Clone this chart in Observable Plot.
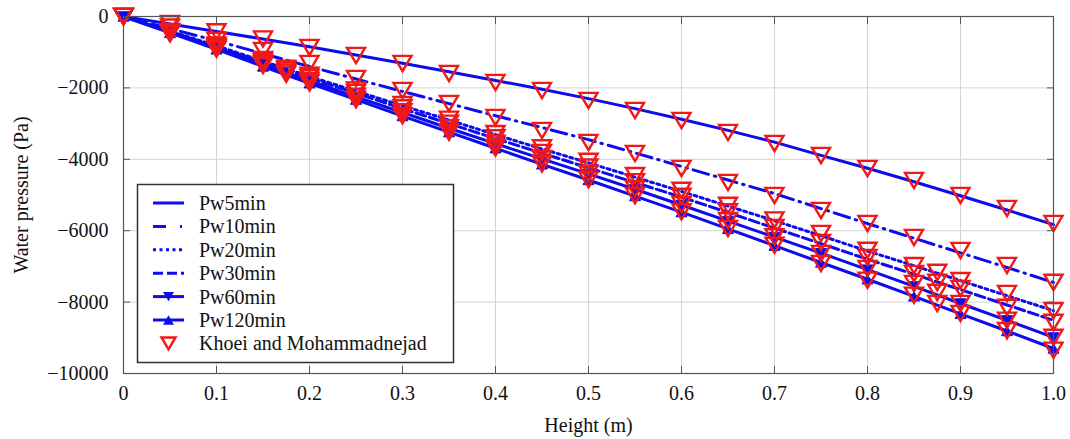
<!DOCTYPE html>
<html><head><meta charset="utf-8">
<script src="https://cdn.jsdelivr.net/npm/d3@7"></script>
<script src="https://cdn.jsdelivr.net/npm/@observablehq/plot@0.6"></script>
<style>
body{margin:0;background:#fff;}
#wrap{position:relative;width:1070px;height:439px;}
#wrap svg{display:block;}
#legend{position:absolute;left:0;top:0;pointer-events:none;}
</style></head><body><div id="wrap"></div>
<script>
// ---- data ----
const heights = [0,0.05,0.1,0.15,0.2,0.25,0.3,0.35,0.4,0.45,0.5,0.55,0.6,0.65,0.7,0.75,0.8,0.85,0.9,0.95,1.0];
const seriesNames = ["Pw5min","Pw10min","Pw20min","Pw30min","Pw60min","Pw120min"];
const pw5   = [0,-210,-420,-630,-850,-1080,-1310,-1550,-1790,-2040,-2300,-2580,-2880,-3190,-3520,-3890,-4250,-4630,-5020,-5420,-5830];
const pw10  = [0,-340,-680,-1040,-1400,-1750,-2100,-2440,-2780,-3110,-3450,-3820,-4200,-4580,-4960,-5380,-5800,-6210,-6620,-7030,-7450];
const pw20  = [0,-410,-820,-1250,-1680,-2090,-2500,-2900,-3310,-3710,-4100,-4500,-4900,-5310,-5720,-6140,-6570,-6980,-7400,-7820,-8240];
const pw30  = [0,-420,-850,-1290,-1730,-2150,-2580,-3000,-3420,-3830,-4240,-4650,-5060,-5490,-5930,-6360,-6800,-7220,-7650,-8080,-8510];
const pw60  = [0,-440,-880,-1340,-1800,-2250,-2690,-3130,-3560,-3990,-4410,-4840,-5280,-5730,-6180,-6630,-7090,-7560,-8040,-8510,-8990];
const pw120 = [0,-460,-920,-1400,-1870,-2330,-2790,-3240,-3690,-4140,-4580,-5030,-5480,-5950,-6420,-6890,-7360,-7840,-8330,-8810,-9300];

const khoeiName = "Khoei and Mohammadnejad";
const khoeiX1 = [0,0.05,0.1,0.15,0.2,0.25,0.3,0.35,0.4,0.45,0.5,0.55,0.6,0.65,0.7,0.75,0.8,0.85,0.9,0.95,1.0];
const khoeiX2 = [0,0.05,0.1,0.15,0.175,0.2,0.25,0.3,0.35,0.4,0.45,0.5,0.55,0.6,0.65,0.7,0.75,0.8,0.85,0.875,0.9,0.95,1.0];
const khoei5   = [0,-200,-430,-630,-868,-1092,-1317,-1597,-1849,-2073,-2353,-2633,-2913,-3249,-3557,-3894,-4258,-4594,-5014,-5378,-5800];
const khoei10  = [0,-300,-672,-952,-1317,-1737,-2073,-2437,-2829,-3193,-3530,-3838,-4258,-4650,-5014,-5434,-5800,-6190,-6555,-6975,-7450];
const khoei20  = [0,-420,-800,-1210,-1450,-1650,-2060,-2470,-2880,-3280,-3680,-4060,-4460,-4870,-5290,-5700,-6080,-6550,-6980,-7170,-7400,-7760,-8240];
const khoei30  = [0,-440,-840,-1260,-1500,-1710,-2130,-2560,-2990,-3400,-3810,-4220,-4630,-5040,-5470,-5910,-6330,-6750,-7200,-7450,-7620,-8150,-8570];
const khoei60  = [0,-460,-880,-1320,-1560,-1790,-2240,-2670,-3120,-3550,-3980,-4400,-4830,-5270,-5720,-6170,-6640,-7060,-7480,-7730,-8040,-8510,-8990];
const khoei120 = [0,-480,-920,-1370,-1620,-1860,-2330,-2780,-3240,-3680,-4130,-4570,-5020,-5470,-5940,-6410,-6920,-7390,-7810,-8040,-8320,-8800,-9350];

const xTicks = [0,0.1,0.2,0.3,0.4,0.5,0.6,0.7,0.8,0.9,1.0];
const yTicks = [0,-2000,-4000,-6000,-8000,-10000];

// ---- build tables ----
const modelValues = [pw5,pw10,pw20,pw30,pw60,pw120];
const khoeiValues = [khoei5,khoei10,khoei20,khoei30,khoei60,khoei120];
const khoeiXs = [khoeiX1,khoeiX1,khoeiX2,khoeiX2,khoeiX2,khoeiX2];
const modelRows = seriesNames.flatMap((s,i)=>heights.map((h,j)=>({series:s,h,p:modelValues[i][j]})));
const khoeiRows = khoeiValues.flatMap((vals,i)=>vals.map((p,j)=>({series:seriesNames[i],h:khoeiXs[i][j],p})));

const BLUE = "#0c0cee", RED = "#f01818";
const FONT = "Liberation Serif, Times New Roman, serif";
const LW = 3;
const styles = {
  Pw5min:  {dash:null, marker:null},
  Pw10min: {dash:"16,6,1.5,6", marker:null},
  Pw20min: {dash:"3,3.5", marker:null},
  Pw30min: {dash:"10,4", marker:null},
  Pw60min: {dash:null, marker:"down"},
  Pw120min:{dash:null, marker:"up"}
};
const triDown = {draw(ctx,size){const r=Math.sqrt(size/Math.PI);ctx.moveTo(-r,-0.85*r);ctx.lineTo(r,-0.85*r);ctx.lineTo(0,0.85*r);ctx.closePath();}};
const triUp = {draw(ctx,size){const r=Math.sqrt(size/Math.PI);ctx.moveTo(-r,0.85*r);ctx.lineTo(r,0.85*r);ctx.lineTo(0,-0.85*r);ctx.closePath();}};
const fmtX = d => d===0 ? "0" : d.toFixed(1);
const fmtY = d => d===0 ? "0" : "\u2212" + Math.abs(d);

const marks = [
  Plot.gridX(xTicks,{stroke:"#d4d4d4",strokeOpacity:1,strokeWidth:1}),
  Plot.gridY(yTicks,{stroke:"#d4d4d4",strokeOpacity:1,strokeWidth:1}),
];
for (const s of seriesNames) {
  const st = styles[s];
  const rows = modelRows.filter(d=>d.series===s);
  marks.push(Plot.line(rows,{x:"h",y:"p",stroke:BLUE,strokeWidth:LW,strokeDasharray:st.dash||undefined}));
  if (st.marker) marks.push(Plot.dot(rows,{x:"h",y:"p",r:5.5,symbol:st.marker==="down"?triDown:triUp,fill:BLUE,stroke:BLUE,strokeWidth:1}));
}
marks.push(Plot.dot(khoeiRows,{x:"h",y:"p",r:9,symbol:triDown,fill:"none",stroke:RED,strokeWidth:2.4}));
marks.push(
  Plot.frame({stroke:"#555",strokeWidth:1.2}),
  Plot.axisX(xTicks,{anchor:"bottom",tickSize:0,tickPadding:12,tickFormat:fmtX,label:"Height (m)",labelAnchor:"center",labelArrow:"none",labelOffset:58,fontSize:20}),
  Plot.axisX(xTicks,{anchor:"bottom",tickSize:-7,tickFormat:()=>"",label:null,stroke:"#555"}),
  Plot.axisX(xTicks,{anchor:"top",tickSize:-7,tickFormat:()=>"",label:null,stroke:"#555"}),
  Plot.axisY(yTicks,{anchor:"left",tickSize:0,tickPadding:15,tickFormat:fmtY,label:"Water pressure (Pa)",labelAnchor:"center",labelArrow:"none",labelOffset:110,fontSize:20}),
  Plot.axisY(yTicks,{anchor:"left",tickSize:-7,tickFormat:()=>"",label:null,stroke:"#555"}),
  Plot.axisY(yTicks,{anchor:"right",tickSize:-7,tickFormat:()=>"",label:null,stroke:"#555"})
);

const chart = Plot.plot({
  width:1070, height:439,
  marginLeft:123, marginRight:17, marginTop:16, marginBottom:66,
  style:{fontFamily:FONT,fontSize:"20px",background:"#fff",color:"#111",overflow:"visible"},
  x:{domain:[0,1]},
  y:{domain:[-10000,0]},
  marks
});
const wrap = document.getElementById("wrap");
wrap.appendChild(chart);

// ---- legend overlay ----
const legendItems = seriesNames.map(s=>({name:s,...styles[s],kind:"model"})).concat([{name:khoeiName,kind:"khoei"}]);
const lg = d3.select(wrap).append("svg").attr("id","legend").attr("width",1070).attr("height",439)
  .style("font-family",FONT).style("font-size","20px");
lg.append("rect").attr("x",137.5).attr("y",184.5).attr("width",316).attr("height",178)
  .attr("fill","#fff").attr("stroke","#333").attr("stroke-width",1.5);
legendItems.forEach((it,i)=>{
  const cy = 203 + i*23.4;
  if (it.kind==="model") {
    lg.append("line").attr("x1",153).attr("x2",184).attr("y1",cy).attr("y2",cy)
      .attr("stroke",BLUE).attr("stroke-width",LW).attr("stroke-dasharray",it.dash ? (it.name==="Pw10min" ? "13,14,2,4" : it.dash) : null);
    if (it.marker) {
      const p = d3.path(); (it.marker==="down"?triDown:triUp).draw(p,Math.PI*30);
      lg.append("path").attr("d",p.toString()).attr("transform",`translate(168.5,${cy})`).attr("fill",BLUE);
    }
  } else {
    const p = d3.path(); triDown.draw(p,Math.PI*49);
    lg.append("path").attr("d",p.toString()).attr("transform",`translate(168.5,${cy})`).attr("fill","none").attr("stroke",RED).attr("stroke-width",2.4);
  }
  lg.append("text").attr("x",199).attr("y",cy+7).attr("fill","#111").text(it.name);
});
</script></body></html>
